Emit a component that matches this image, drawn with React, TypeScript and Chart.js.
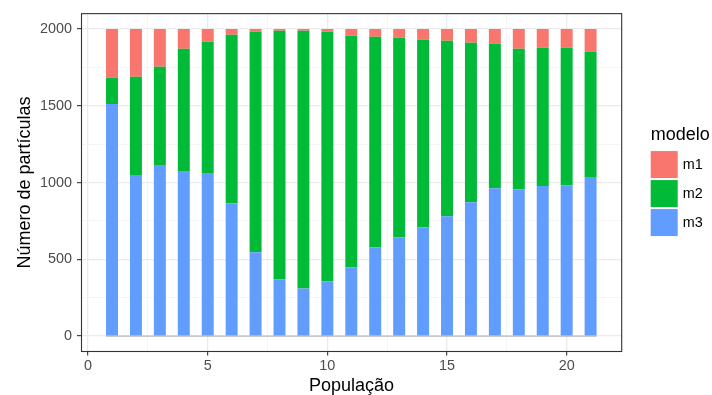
import React, { useEffect, useRef } from 'react';
import { Chart, registerables } from 'chart.js';

Chart.register(...registerables);

// ---- data ----
const populations = [1, 2, 3, 4, 5, 6, 7, 8, 9, 10, 11, 12, 13, 14, 15, 16, 17, 18, 19, 20, 21];
const m1 = [318, 311, 246, 129, 83, 37, 18, 11, 11, 18, 44, 50, 57, 70, 76, 89, 96, 129, 122, 122, 148];
const m2 = [170, 640, 640, 796, 855, 1097, 1436, 1619, 1678, 1625, 1508, 1371, 1299, 1221, 1143, 1039, 941, 914, 901, 895, 816];
const m3 = [1512, 1049, 1114, 1075, 1062, 866, 546, 370, 311, 357, 448, 579, 644, 709, 781, 872, 963, 957, 977, 983, 1036];
const seriesNames = ['m1', 'm2', 'm3'];
const seriesColors = ['#F8766D', '#00BA38', '#619CFF'];
const xTickLabels = [0, 5, 10, 15, 20];
const yTickLabels = [0, 500, 1000, 1500, 2000];
const xTitle = 'População';
const yTitle = 'Número de partículas';
const legendTitle = 'modelo';

const FONT = "'Liberation Sans', Arial, Helvetica, sans-serif";

// major ticks plus ggplot-style minor ticks half-way between them
const withMinor = (majors: number[]) => {
  const out: number[] = [];
  majors.forEach((v, i) => {
    out.push(v);
    if (i < majors.length - 1) out.push((v + majors[i + 1]) / 2);
  });
  return out;
};

const ggLegend = {
  id: 'ggLegend',
  afterDraw(chart: any) {
    const { ctx, chartArea } = chart;
    const items = chart.data.datasets.filter((d: any) => d.isSeries).slice().reverse();
    const cy = (chartArea.top + chartArea.bottom) / 2;
    const x0 = chartArea.right + 29;
    ctx.save();
    ctx.fillStyle = '#000000';
    ctx.font = `18px ${FONT}`;
    ctx.textAlign = 'left';
    ctx.textBaseline = 'alphabetic';
    ctx.fillText(legendTitle, x0, cy - 42.5);
    const top0 = cy - 31.5;
    const step = 29;
    items.forEach((d: any, i: number) => {
      const y = top0 + i * step;
      ctx.fillStyle = d.backgroundColor;
      ctx.fillRect(x0, y, 27, 27);
      ctx.fillStyle = '#000000';
      ctx.font = `14.4px ${FONT}`;
      ctx.textBaseline = 'middle';
      ctx.fillText(d.label, x0 + 32, y + 14);
    });
    ctx.restore();
  },
};

const panelBorder = {
  id: 'panelBorder',
  afterDraw(chart: any) {
    const { ctx, chartArea } = chart;
    ctx.save();
    ctx.strokeStyle = '#333333';
    ctx.lineWidth = 1.1;
    ctx.strokeRect(chartArea.left, chartArea.top, chartArea.right - chartArea.left, chartArea.bottom - chartArea.top);
    ctx.restore();
  },
};

export default function App() {
  const ref = useRef<HTMLCanvasElement>(null);
  useEffect(() => {
    if (!ref.current) return;
    const mk = (vals: number[]) => populations.map((p, i) => ({ x: p, y: vals[i] }));
    const seriesVals = [m1, m2, m3];
    // stacking order: m3 at bottom, then m2, then m1
    const barSets = [2, 1, 0].map((k) => ({
      type: 'bar' as const,
      label: seriesNames[k],
      isSeries: true,
      data: mk(seriesVals[k]),
      backgroundColor: seriesColors[k],
      borderWidth: 0,
      stack: 'bars',
      order: 0,
      barPercentage: 0.5,
      categoryPercentage: 1,
    }));
    const zeroLine = {
      type: 'line' as const,
      label: 'base',
      data: [
        { x: populations[0] - 0.25, y: 0 },
        { x: populations[populations.length - 1] + 0.25, y: 0 },
      ],
      borderColor: '#ADADAD',
      borderWidth: 1,
      pointRadius: 0,
      stack: 'line',
      order: 1,
    };
    const isMajorX = (v: number) => xTickLabels.includes(v);
    const isMajorY = (v: number) => yTickLabels.includes(v);
    const xTicks = withMinor(xTickLabels);
    const yTicks = withMinor(yTickLabels);
    const chart = new Chart(ref.current, {
      type: 'bar',
      data: { datasets: [...barSets, zeroLine] as any },
      options: {
        animation: false,
        responsive: true,
        maintainAspectRatio: false,
        layout: { padding: { left: 0, right: 90.3, top: 13.5, bottom: 0 } },
        plugins: { legend: { display: false }, tooltip: { enabled: false } },
        scales: {
          x: {
            type: 'linear',
            position: 'bottom',
            stacked: true,
            offset: false,
            min: -0.275,
            max: 22.3,
            afterBuildTicks: (s: any) => { s.ticks = xTicks.map((v) => ({ value: v })); },
            afterFit: (s: any) => { s.height = 43.5; },
            border: { display: false },
            ticks: {
              autoSkip: false,
              maxRotation: 0,
              padding: 2,
              color: '#4D4D4D',
              font: { family: FONT, size: 14.4 },
              callback: (v: any) => (isMajorX(Number(v)) ? String(v) : ''),
            },
            grid: {
              offset: false,
              color: (c: any) => (c.tick && isMajorX(c.tick.value) ? '#EBEBEB' : '#F2F2F2'),
              lineWidth: (c: any) => (c.tick && isMajorX(c.tick.value) ? 1.3 : 0.8),
              tickLength: 4,
              tickWidth: 1.1,
              tickColor: (c: any) => (c.tick && isMajorX(c.tick.value) ? '#333333' : 'rgba(0,0,0,0)'),
            },
            title: {
              display: true,
              text: xTitle,
              color: '#000000',
              font: { family: FONT, size: 18, lineHeight: 1 },
              padding: { top: 0, bottom: 0 },
            },
          },
          y: {
            type: 'linear',
            position: 'left',
            stacked: true,
            offset: false,
            beginAtZero: false,
            min: -100,
            max: 2100,
            afterBuildTicks: (s: any) => { s.ticks = yTicks.map((v) => ({ value: v })); },
            afterFit: (s: any) => { s.width = 81.5; },
            border: { display: false },
            ticks: {
              display: true,
              autoSkip: false,
              padding: 5,
              color: '#4D4D4D',
              font: { family: FONT, size: 14.4 },
              callback: (v: any) => (isMajorY(Number(v)) ? String(v) : ''),
            },
            grid: {
              offset: false,
              color: (c: any) => (c.tick && isMajorY(c.tick.value) ? '#EBEBEB' : '#F2F2F2'),
              lineWidth: (c: any) => (c.tick && isMajorY(c.tick.value) ? 1.3 : 0.8),
              tickLength: 4.5,
              tickWidth: 1.1,
              tickColor: (c: any) => (c.tick && isMajorY(c.tick.value) ? '#333333' : 'rgba(0,0,0,0)'),
            },
            title: {
              display: true,
              text: yTitle,
              color: '#000000',
              font: { family: FONT, size: 18, lineHeight: 1 },
              padding: { top: 16, bottom: 0 },
            },
          },
        },
      } as any,
      plugins: [ggLegend, panelBorder],
    });
    return () => chart.destroy();
  }, []);
  return (
    <div style={{ position: 'absolute', left: 0, top: 0, width: 712, height: 395, background: '#FFFFFF' }}>
      <canvas ref={ref} />
    </div>
  );
}
